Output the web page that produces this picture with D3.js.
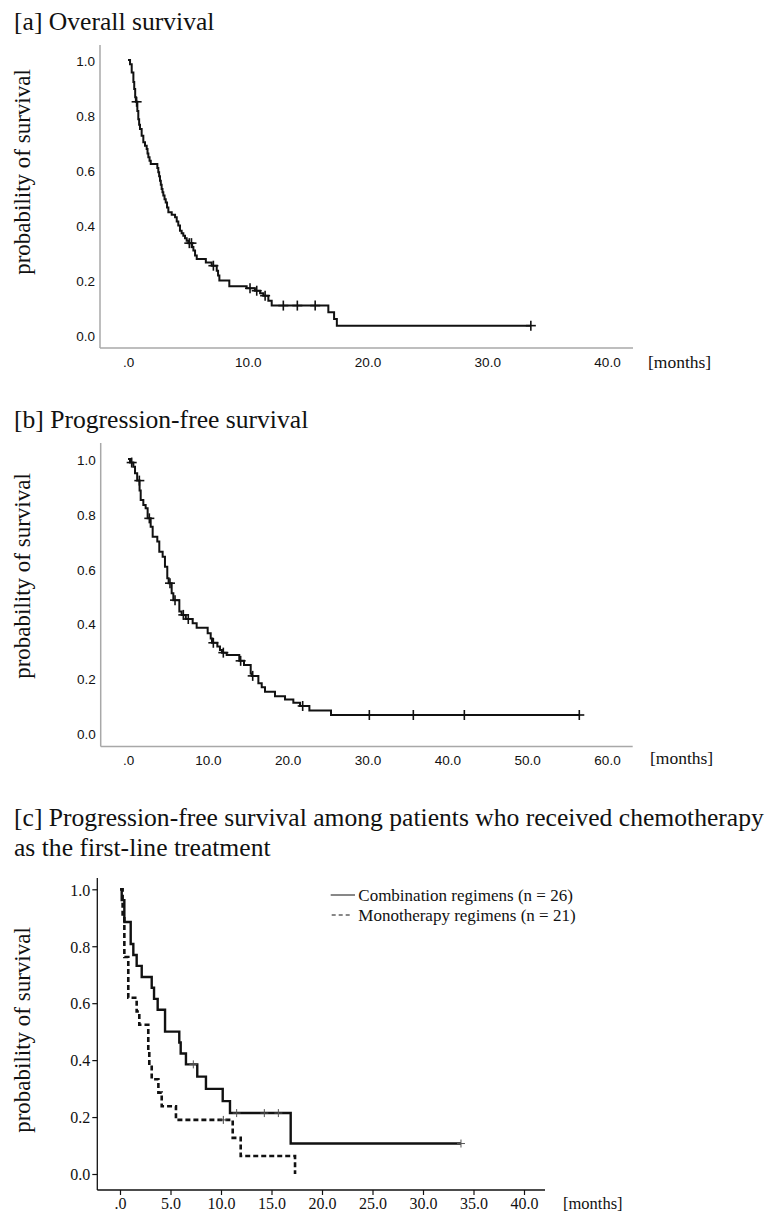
<!DOCTYPE html>
<html>
<head>
<meta charset="utf-8">
<title>Kaplan-Meier survival curves</title>
<script src="https://d3js.org/d3.v7.min.js"></script>
<style>
  body { margin: 0; background: #fff; }
  svg { display: block; }
</style>
</head>
<body>
<div id="chart"></div>
<script>
// [a] overall survival: step times (months) and survival after each step
const osTime = [0, 0.17, 0.31, 0.45, 0.52, 0.6, 0.66, 0.78, 0.86, 0.93, 1.0, 1.14, 1.28, 1.42, 1.56, 1.63, 1.7, 1.8, 1.9,
  2.45, 2.53, 2.6, 2.67, 2.74, 2.81, 2.88, 2.95, 3.05, 3.15, 3.26, 3.37, 3.65, 3.93, 4.07, 4.2, 4.34, 4.48, 4.62, 4.76, 4.9,
  5.05, 5.36, 5.46, 5.6, 5.74, 6.5, 6.99, 7.41, 7.52, 7.63, 8.46, 9.91, 10.6, 11.03, 11.3, 11.72, 12.0, 16.73, 17.21, 17.44];
const osSurv = [1.0, 0.985, 0.955, 0.92, 0.895, 0.865, 0.848, 0.815, 0.785, 0.765, 0.749, 0.725, 0.701, 0.688, 0.676, 0.66, 0.646, 0.634, 0.622,
  0.607, 0.592, 0.577, 0.561, 0.546, 0.531, 0.519, 0.507, 0.494, 0.482, 0.464, 0.446, 0.437, 0.428, 0.413, 0.398, 0.379, 0.37, 0.361, 0.352, 0.343,
  0.334, 0.32, 0.307, 0.289, 0.276, 0.264, 0.252, 0.234, 0.216, 0.198, 0.177, 0.17, 0.161, 0.152, 0.143, 0.125, 0.107, 0.083, 0.058, 0.034];
const osCensor = [0.72, 5.12, 5.3, 7.13, 10.19, 10.75, 11.45, 12.97, 14.14, 15.63, 33.64];

// [b] progression-free survival
const pfsTime = [0, 0.25, 0.67, 0.88, 1.15, 1.45, 1.59, 1.92, 2.21, 2.46, 2.84, 3.09, 3.67, 3.92, 4.34, 4.63, 4.92, 5.09, 5.47, 5.68,
  6.43, 6.72, 7.24, 8.1, 8.6, 9.98, 10.36, 10.52, 11.19, 11.52, 11.77, 12.36, 13.94, 14.53, 15.37, 15.5, 16.33, 16.75, 17.16,
  18.41, 19.67, 20.71, 21.55, 22.72, 25.43];
const pfsSurv = [1.0, 0.987, 0.972, 0.948, 0.921, 0.885, 0.85, 0.832, 0.82, 0.783, 0.752, 0.716, 0.698, 0.661, 0.643, 0.606, 0.564, 0.546, 0.509, 0.484,
  0.442, 0.43, 0.415, 0.399, 0.383, 0.363, 0.344, 0.328, 0.314, 0.302, 0.292, 0.283, 0.262, 0.247, 0.216, 0.207, 0.18, 0.165, 0.149,
  0.133, 0.121, 0.109, 0.097, 0.08, 0.064];
const pfsCensor = [0.46, 1.42, 2.67, 5.26, 5.89, 6.93, 7.55, 10.69, 11.94, 14.11, 15.62, 21.88, 30.23, 35.74, 42.13, 56.53];

// [c] PFS by first-line chemotherapy
const combTime = [0, 0.17, 0.43, 1.06, 1.32, 1.65, 2.15, 3.14, 3.37, 3.73, 4.46, 5.87, 6.01, 6.53, 7.65, 8.51, 10.17, 10.89, 16.9];
const combSurv = [1.0, 0.962, 0.885, 0.808, 0.769, 0.731, 0.692, 0.654, 0.615, 0.577, 0.5, 0.462, 0.423, 0.385, 0.342, 0.299, 0.256, 0.214, 0.107];
const combCensor = [7.26, 11.55, 14.29, 15.68, 33.76];

const monoTime = [0, 0.26, 0.43, 0.82, 1.65, 1.91, 2.8, 2.9, 3.14, 3.8, 4.13, 5.54, 11.16, 11.95, 17.33];
const monoSurv = [1.0, 0.905, 0.762, 0.619, 0.571, 0.524, 0.429, 0.381, 0.333, 0.286, 0.238, 0.19, 0.127, 0.063, 0.0];
const monoCensor = [10.23];

const yTicks = [0, 0.2, 0.4, 0.6, 0.8, 1.0];
const xTicksA = [0, 10, 20, 30, 40];
const xTicksB = [0, 10, 20, 30, 40, 50, 60];
const xTicksC = [0, 5, 10, 15, 20, 25, 30, 35, 40];

const legendLabels = ["Combination regimens (n = 26)", "Monotherapy regimens (n = 21)"];

const serif = "'Liberation Serif', 'Times New Roman', serif";
const sans = "'Liberation Sans', Arial, sans-serif";

const svg = d3.select("#chart").append("svg")
  .attr("width", 772)
  .attr("height", 1214);

function survAt(times, surv, t) {
  const i = d3.bisectRight(times, t) - 1;
  return surv[Math.max(0, i)];
}

function drawCurve(g, x, y, times, surv, censor, style) {
  const end = Math.max(times[times.length - 1], d3.max(censor) || 0);
  const pts = times.map((t, i) => [t, surv[i]]);
  pts.push([end, surv[surv.length - 1]]);
  const line = d3.line()
    .x(d => x(d[0]))
    .y(d => y(d[1]))
    .curve(d3.curveStepAfter);
  g.append("path")
    .datum(pts)
    .attr("fill", "none")
    .attr("stroke", "#111")
    .attr("stroke-width", style.width)
    .attr("stroke-dasharray", style.dash || null)
    .attr("d", line);

  const c = g.selectAll(null)
    .data(censor)
    .enter()
    .append("g")
    .attr("transform", d => `translate(${x(d)},${y(survAt(times, surv, d))})`);
  c.append("line").attr("x1", -style.cs).attr("x2", style.cs)
    .attr("stroke", style.cc).attr("stroke-width", style.cw);
  c.append("line").attr("y1", -style.cs).attr("y2", style.cs)
    .attr("stroke", style.cc).attr("stroke-width", style.cw);
}

function drawPanel(p) {
  const g = svg.append("g");
  p.titles.forEach((t, i) => {
    g.append("text")
      .attr("x", 14).attr("y", p.titleY[i])
      .attr("font-family", serif).attr("font-size", 25.6)
      .attr("fill", "#111")
      .text(t);
  });

  const x = d3.scaleLinear().domain(p.xDomain).range(p.xRange);
  const y = d3.scaleLinear().domain([0, 1]).range(p.yRange);

  // frame lines
  g.append("line")
    .attr("x1", p.frame.left).attr("x2", p.frame.left)
    .attr("y1", p.frame.top).attr("y2", p.frame.bottom)
    .attr("stroke", p.axisColor).attr("stroke-width", p.axisWidth);
  g.append("line")
    .attr("x1", p.frame.left).attr("x2", p.frame.right)
    .attr("y1", p.frame.bottom).attr("y2", p.frame.bottom)
    .attr("stroke", p.axisColor).attr("stroke-width", p.axisWidth);

  const xAxis = d3.axisBottom(x)
    .tickValues(p.xTicks)
    .tickSize(p.tickLen)
    .tickPadding(p.xPad)
    .tickFormat(d => d === 0 ? ".0" : d.toFixed(1));
  const gx = g.append("g")
    .attr("transform", `translate(0,${p.frame.bottom})`)
    .call(xAxis);
  gx.select(".domain").remove();

  const yAxis = d3.axisLeft(y)
    .tickValues(yTicks)
    .tickSize(p.tickLen)
    .tickPadding(p.yPad)
    .tickFormat(d => d.toFixed(1));
  const gy = g.append("g")
    .attr("transform", `translate(${p.frame.left},0)`)
    .call(yAxis);
  gy.select(".domain").remove();

  [gx, gy].forEach(a => {
    a.selectAll("text")
      .attr("font-family", p.tickFont)
      .attr("font-size", p.tickSize)
      .attr("fill", "#111");
    a.selectAll(".tick line").attr("stroke", "#111").attr("stroke-width", 1.2);
  });
  gy.selectAll("text").attr("dy", p.yDy);

  g.append("text")
    .attr("x", p.monthsX).attr("y", p.monthsY)
    .attr("font-family", serif).attr("font-size", p.monthsSize)
    .attr("fill", "#111")
    .text("[months]");

  g.append("text")
    .attr("transform", `translate(${p.ylabX},${p.ylabY}) rotate(-90)`)
    .attr("text-anchor", "middle")
    .attr("font-family", serif).attr("font-size", 23)
    .attr("fill", "#111")
    .text("probability of survival");

  return { g, x, y };
}

// panel a
const pa = drawPanel({
  titles: ["[a] Overall survival"], titleY: [30],
  xDomain: [0, 40], xRange: [128, 607], yRange: [335, 60],
  frame: { left: 100, top: 45, right: 633, bottom: 348 },
  axisColor: "#a8a8a8", axisWidth: 1.5,
  xTicks: xTicksA, tickLen: 0, xPad: 9, yPad: 5, yDy: "0.42em",
  tickFont: sans, tickSize: 13.5,
  monthsX: 648, monthsY: 368, monthsSize: 17.5,
  ylabX: 30, ylabY: 172
});
drawCurve(pa.g, pa.x, pa.y, osTime, osSurv, osCensor, { width: 2, cs: 5, cw: 1.6, cc: "#111" });

// panel b
const pb = drawPanel({
  titles: ["[b] Progression-free survival"], titleY: [428],
  xDomain: [0, 60], xRange: [128, 607], yRange: [732.5, 459],
  frame: { left: 100.7, top: 443, right: 632.7, bottom: 746.5 },
  axisColor: "#a8a8a8", axisWidth: 1.5,
  xTicks: xTicksB, tickLen: 0, xPad: 9, yPad: 5, yDy: "0.42em",
  tickFont: sans, tickSize: 13.5,
  monthsX: 650, monthsY: 764, monthsSize: 17.5,
  ylabX: 30, ylabY: 576
});
drawCurve(pb.g, pb.x, pb.y, pfsTime, pfsSurv, pfsCensor, { width: 2, cs: 5, cw: 1.6, cc: "#111" });

// panel c
const pc = drawPanel({
  titles: ["[c] Progression-free survival among patients who received chemotherapy", "as the first-line treatment"],
  titleY: [826, 856],
  xDomain: [0, 40], xRange: [120, 524], yRange: [1174, 889.3],
  frame: { left: 97.3, top: 878, right: 545, bottom: 1190 },
  axisColor: "#111", axisWidth: 1.3,
  xTicks: xTicksC, tickLen: 5, xPad: 3, yPad: 2, yDy: "0.36em",
  tickFont: serif, tickSize: 16,
  monthsX: 563, monthsY: 1209, monthsSize: 16.5,
  ylabX: 30, ylabY: 1030
});
drawCurve(pc.g, pc.x, pc.y, monoTime, monoSurv, monoCensor, { width: 2.6, dash: "5,3", cs: 4, cw: 1, cc: "#444" });
drawCurve(pc.g, pc.x, pc.y, combTime, combSurv, combCensor, { width: 2.4, cs: 4, cw: 1, cc: "#555" });

// legend
const legend = pc.g.append("g");
legendLabels.forEach((label, i) => {
  const ly = 895 + i * 20;
  legend.append("line")
    .attr("x1", i === 0 ? 330.7 : 331.7).attr("x2", i === 0 ? 355 : 352)
    .attr("y1", ly).attr("y2", ly)
    .attr("stroke", "#111").attr("stroke-width", 1)
    .attr("stroke-dasharray", i === 0 ? null : "4,3");
  legend.append("text")
    .attr("x", 358.3).attr("y", ly + 5.5)
    .attr("font-family", serif).attr("font-size", 17)
    .attr("fill", "#111")
    .text(label);
});
</script>
</body>
</html>
